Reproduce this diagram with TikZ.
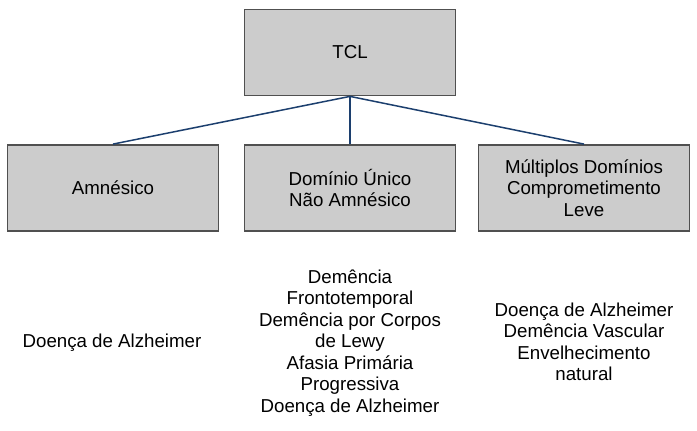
\documentclass[tikz,border=0pt]{standalone}
\usepackage{fontspec}
\setmainfont{Liberation Sans}
\usepackage{xcolor}
\usepackage{tikz}

\definecolor{boxgray}{RGB}{204,204,204}
\definecolor{edgegray}{RGB}{80,80,80}
\definecolor{linkblue}{RGB}{28,63,110}

\begin{document}
\begin{tikzpicture}[x=1pt, y=1pt,
    box/.style={draw=edgegray, line width=1.8pt, fill=boxgray, minimum width=211pt,
        minimum height=86pt, align=center, inner sep=0pt},
    link/.style={draw=linkblue, line width=1.5pt},
    list/.style={align=center, inner sep=0pt}]
    \fontsize{18.7}{21.5}\selectfont
    \useasboundingbox (0,0) rectangle (697,431);

    % TCL box
    \node[box] (tcl) at (350,378.5) {TCL};

    % Subtypes
    \node[box] (amn) at (113,243) {Amnésico};
    \node[box] (uni) at (350,243) {Domínio Único\\Não Amnésico};
    \node[box] (mult) at (584,243) {Múltiplos Domínios\\Comprometimento\\Leve};

    % Lines
    \draw[link] (tcl.south) -- (amn.north);
    \draw[link] (tcl.south) -- (uni.north);
    \draw[link] (tcl.south) -- (mult.north);

    % Causes
    \node[list] (amnlist) at (112,88) {Doença de Alzheimer};
    \node[list] (unilist) at (350,88) {Demência\\Frontotemporal\\Demência por Corpos\\de Lewy\\Afasia Primária\\Progressiva\\Doença de Alzheimer};
    \node[list] (multlist) at (584,89) {Doença de Alzheimer\\Demência Vascular\\Envelhecimento\\natural};
\end{tikzpicture}
\end{document}
